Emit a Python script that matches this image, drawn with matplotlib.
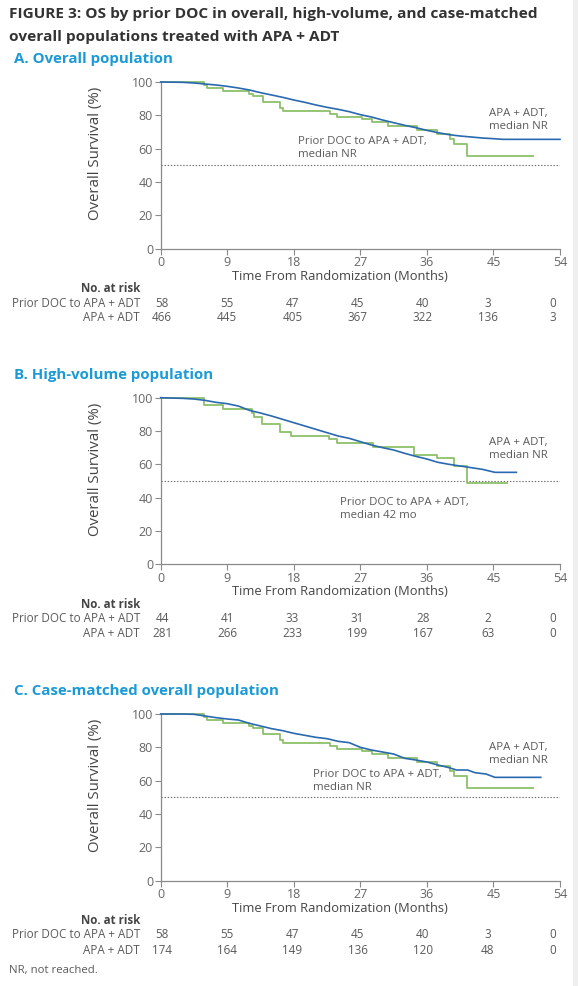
import matplotlib
matplotlib.use("Agg")
import matplotlib.pyplot as plt
from matplotlib.patches import Rectangle

plt.rcParams['font.family'] = ['Open Sans', 'DejaVu Sans']

# ---------------- data ----------------
month_ticks = [0, 9, 18, 27, 36, 45, 54]
surv_ticks = [0, 20, 40, 60, 80, 100]

# Panel A: overall population
A_doc_t = [0, 5.9, 6.3, 8.4, 11.9, 12.5, 13.8, 16.1, 16.5, 22.9, 23.8, 27.2, 28.6, 30.8, 34.6, 37.3, 39.1, 39.6, 41.4, 50.4]
A_doc_s = [100, 98.3, 96.6, 94.8, 93.1, 91.4, 87.9, 84.5, 82.8, 81.0, 79.3, 77.6, 75.8, 73.9, 71.0, 69.0, 65.6, 62.6, 55.7, 55.7]
A_apa_t = [0, 3, 4.5, 6, 7.5, 9, 10.5, 12, 13.5, 15, 16.5, 18, 19.5, 21, 22.5, 24, 25.5, 27, 28.5, 30, 31.5, 33, 34.5, 36, 37.5, 39, 40.5, 42, 43.5, 45, 46.3, 54]
A_apa_s = [100, 99.8, 99.4, 98.8, 98.2, 97.4, 96.4, 95.2, 93.6, 92.2, 90.8, 89.2, 87.8, 86.2, 84.8, 83.6, 82.2, 80.4, 79.0, 77.2, 75.6, 74.0, 72.6, 71.0, 69.6, 68.4, 67.6, 67.0, 66.4, 66.0, 65.6, 65.6]

# Panel B: high-volume population
B_doc_t = [0, 5.8, 8.4, 12.3, 12.6, 13.7, 16.2, 17.6, 22.8, 23.8, 28.7, 34.2, 37.3, 39.7, 41.4, 46.8]
B_doc_s = [100, 95.5, 93.2, 90.9, 88.6, 84.1, 79.5, 77.3, 75.0, 72.7, 70.4, 65.9, 63.6, 59.1, 48.9, 48.9]
B_apa_t = [0, 3, 4.5, 6, 7.5, 9, 10.5, 12, 13.5, 15, 16.5, 18, 19.5, 21, 22.5, 24, 25.5, 27, 28.5, 30, 31.5, 33, 34.5, 36, 37.5, 39, 40.5, 42, 43.5, 45.2, 48.1]
B_apa_s = [100, 99.6, 99.2, 98.4, 97.2, 96.4, 95.0, 92.4, 90.8, 89.0, 87.0, 85.0, 83.0, 81.0, 79.0, 77.0, 75.6, 73.6, 71.6, 70.0, 68.6, 66.6, 64.8, 63.2, 61.2, 60.0, 59.0, 58.0, 57.0, 55.2, 55.2]

# Panel C: case-matched overall population (same prior-DOC cohort as A)
C_doc_t = A_doc_t
C_doc_s = A_doc_s
C_apa_t = [0, 3, 4.5, 6, 7.5, 9, 10.5, 12, 13.5, 15, 16.5, 18, 19.5, 21, 22.5, 24, 25.5, 27, 28.5, 30, 31.5, 33, 34.5, 36, 37.5, 39, 40, 41.5, 42.5, 44, 45.2, 51.4]
C_apa_s = [100, 100, 99.8, 98.8, 97.8, 97.0, 96.4, 94.4, 92.8, 91.2, 90.0, 88.4, 87.2, 86.0, 85.2, 83.6, 82.8, 80.0, 78.4, 77.2, 76.0, 73.4, 72.4, 71.2, 69.4, 67.8, 66.4, 66.4, 64.8, 64.0, 62.0, 62.0]

risk_A_doc = [58, 55, 47, 45, 40, 3, 0]
risk_A_apa = [466, 445, 405, 367, 322, 136, 3]
risk_B_doc = [44, 41, 33, 31, 28, 2, 0]
risk_B_apa = [281, 266, 233, 199, 167, 63, 0]
risk_C_doc = [58, 55, 47, 45, 40, 3, 0]
risk_C_apa = [174, 164, 149, 136, 120, 48, 0]

titles = ["A. Overall population", "B. High-volume population", "C. Case-matched overall population"]
doc_labels = ["Prior DOC to APA + ADT,\nmedian NR", "Prior DOC to APA + ADT,\nmedian 42 mo", "Prior DOC to APA + ADT,\nmedian NR"]
apa_labels = ["APA + ADT,\nmedian NR", "APA + ADT,\nmedian NR", "APA + ADT,\nmedian NR"]

# ---------------- style ----------------
W, H = 578, 986
BLUE = '#2a69b0'
GREEN = '#8cc06a'
HEAD = '#1b9ad6'
DARK = '#333333'
GREY = '#5a5a5a'

fig = plt.figure(figsize=(W / 100, H / 100), dpi=100)
fig.patch.set_facecolor('white')
fig.add_artist(Rectangle((573 / W, 0), 5 / W, 1, transform=fig.transFigure,
                         facecolor='#efefef', edgecolor='none'))


def ft(x, y, s, **kw):
    kw.setdefault('va', 'center')
    return fig.text(x / W, 1 - y / H, s, **kw)


ft(9, 14, "FIGURE 3: OS by prior DOC in overall, high-volume, and case-matched",
   fontsize=11.1, fontweight='bold', color=DARK)
ft(9, 37, "overall populations treated with APA + ADT",
   fontsize=11.1, fontweight='bold', color=DARK)

ax_left, ax_right = 160.7, 560.0
panels = [
    dict(top=82.0, bot=248.7, doc=(A_doc_t, A_doc_s), apa=(A_apa_t, A_apa_s),
         risk=(risk_A_doc, risk_A_apa), apa_pos=(44.4, 77.2), doc_pos=(18.6, 60.4)),
    dict(top=397.7, bot=564.3, doc=(B_doc_t, B_doc_s), apa=(B_apa_t, B_apa_s),
         risk=(risk_B_doc, risk_B_apa), apa_pos=(44.4, 69.3), doc_pos=(24.2, 33.2)),
    dict(top=714.0, bot=880.7, doc=(C_doc_t, C_doc_s), apa=(C_apa_t, C_apa_s),
         risk=(risk_C_doc, risk_C_apa), apa_pos=(44.4, 76.2), doc_pos=(20.6, 60.0)),
]

for i, p in enumerate(panels):
    ax = fig.add_axes([ax_left / W, 1 - p['bot'] / H, (ax_right - ax_left) / W, (p['bot'] - p['top']) / H])
    ax.set_xlim(0, 54)
    ax.set_ylim(0, 100)
    ax.axhline(50, color='#666666', lw=0.8, ls=(0, (1.2, 1.6)), zorder=1)
    ax.step(p['doc'][0], p['doc'][1], where='post', color=GREEN, lw=1.3, clip_on=False, zorder=2)
    ax.plot(p['apa'][0], p['apa'][1], color=BLUE, lw=1.2, clip_on=False, zorder=3)
    for s in ['top', 'right']:
        ax.spines[s].set_visible(False)
    for s in ['left', 'bottom']:
        ax.spines[s].set_color('#8a8a8a')
        ax.spines[s].set_linewidth(0.9)
    ax.set_xticks(month_ticks)
    ax.set_yticks(surv_ticks)
    ax.tick_params(direction='out', length=4, width=0.8, color='#8a8a8a',
                   labelcolor='#666666', labelsize=9, pad=1.5)
    ax.set_ylabel("Overall Survival (%)", fontsize=10.8, color='#444444')
    ax.yaxis.set_label_coords((103 - ax_left) / (ax_right - ax_left), 0.57)
    ax.text(p['apa_pos'][0], p['apa_pos'][1], apa_labels[i], fontsize=8.2, color=GREY,
            va='center', ha='left', linespacing=1.25)
    ax.text(p['doc_pos'][0], p['doc_pos'][1], doc_labels[i], fontsize=8.2, color=GREY,
            va='center', ha='left', linespacing=1.25)

    off = p['bot'] - 248.7
    ft(14, 59 + off, titles[i], fontsize=10.8, fontweight='bold', color=HEAD)
    ft(340, 276 + off, "Time From Randomization (Months)", fontsize=9.3, color='#444444', ha='center')
    ft(140, 288.5 + off, "No. at risk", fontsize=8.3, fontweight='bold', color='#444444', ha='right')
    ft(140, 303 + off, "Prior DOC to APA + ADT", fontsize=8.4, color=GREY, ha='right')
    ft(140, 318 + off, "APA + ADT", fontsize=8.4, color=GREY, ha='right')
    for j, (a, b) in enumerate(zip(p['risk'][0], p['risk'][1])):
        x = 162 + j * (553 - 162) / 6
        ft(x, 303 + off, str(a), fontsize=8.4, color=GREY, ha='center')
        ft(x, 318 + off, str(b), fontsize=8.4, color=GREY, ha='center')

ft(9, 970, "NR, not reached.", fontsize=8.2, color=GREY)

fig.savefig("out.png", dpi=100, facecolor=fig.get_facecolor())
